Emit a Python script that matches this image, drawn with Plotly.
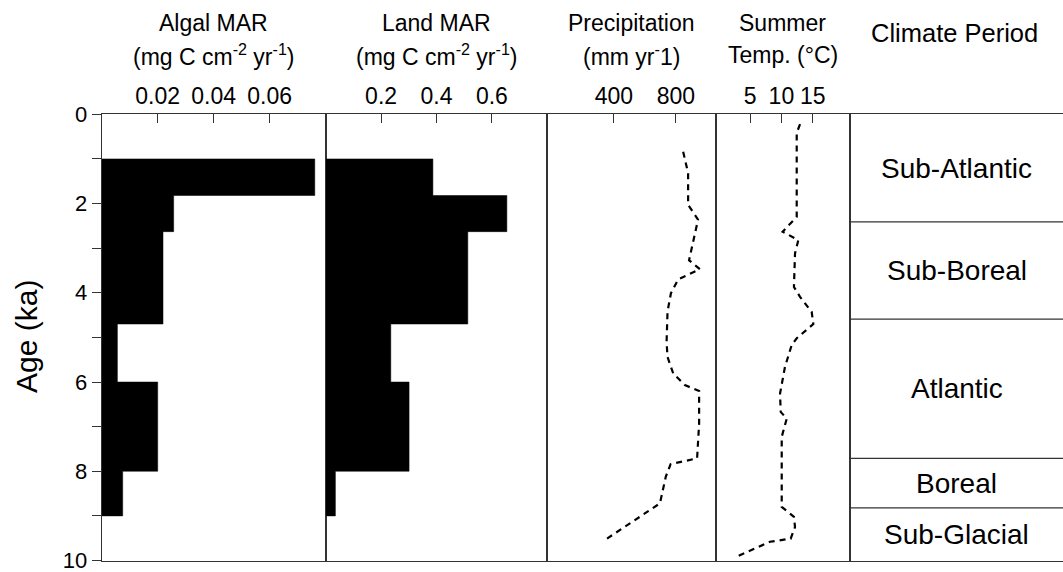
import plotly.graph_objects as go

# ---------------- data ----------------
# age bins (ka) for the MAR step bars
bin_top = [1.0, 1.82, 2.63, 4.70, 6.00, 8.00]
bin_bottom = [1.82, 2.63, 4.70, 6.00, 8.00, 9.00]
algal_mar = [0.0761, 0.0257, 0.0219, 0.0056, 0.0200, 0.0075]
land_mar = [0.387, 0.654, 0.513, 0.235, 0.301, 0.035]

precip_age = [0.84, 1.32, 2.03, 2.36, 3.27, 3.47, 3.70, 4.01, 4.42, 5.10, 5.44,
              5.81, 6.07, 6.20, 6.93, 7.71, 7.84, 8.12, 8.72, 9.02, 9.54]
precip_val = [847, 879, 879, 943, 885, 955, 815, 768, 746, 740, 746,
              783, 858, 950, 950, 937, 766, 735, 697, 568, 342]

temp_age = [0.22, 0.42, 2.30, 2.63, 2.82, 3.12, 3.87, 4.09, 4.43, 4.70, 5.02, 5.17,
            5.66, 6.26, 6.67, 6.82, 7.23, 8.80, 9.02, 9.25, 9.51, 9.58, 9.73, 9.90]
temp_val = [12.97, 12.44, 12.44, 10.2, 12.7, 12.17, 12.0, 12.97, 14.83, 15.09, 12.44, 11.64,
            10.57, 9.78, 9.89, 10.85, 10.05, 10.05, 12.0, 12.17, 11.48, 8.18, 5.79, 3.13]

period_names = ["Sub-Atlantic", "Sub-Boreal", "Atlantic", "Boreal", "Sub-Glacial"]
period_start = [0.0, 2.41, 4.59, 7.71, 8.82]
period_end = [2.41, 4.59, 7.71, 8.82, 10.0]

algal_ticks = [0.02, 0.04, 0.06]
land_ticks = [0.2, 0.4, 0.6]
precip_ticks = [400, 800]
temp_ticks = [5, 10, 15]
age_ticks = [0, 2, 4, 6, 8, 10]

header_line1 = ["Algal MAR", "Land MAR", "Precipitation", "Summer"]
header_line2 = ["(mg C cm<sup>-2</sup> yr<sup>-1</sup>)",
                "(mg C cm<sup>-2</sup> yr<sup>-1</sup>)",
                "(mm yr<sup>-</sup>1)",
                "Temp. (°C)"]
climate_header = "Climate Period"

# ---------------- layout geometry ----------------
W, H = 1063, 572
FONT = "Liberation Sans, Arial, Helvetica, sans-serif"
LINE = "#333333"
LW = 1.3
px_edges = [101.7, 325.7, 547.3, 715.7, 850.0, 1063.0]
xdom = [[px_edges[i] / W, px_edges[i + 1] / W] for i in range(5)]
ydom = [1 - 560.5 / H, 1 - 114.3 / H]


def step_outline(tops, bottoms, vals):
    xs, ys = [0], [tops[0]]
    for t, b, v in zip(tops, bottoms, vals):
        xs += [v, v]
        ys += [t, b]
    xs += [0]
    ys += [bottoms[-1]]
    return xs, ys


fig = go.Figure()

ax, ay = step_outline(bin_top, bin_bottom, algal_mar)
fig.add_trace(go.Scatter(x=ax, y=ay, mode="lines", fill="toself", fillcolor="black",
                         line=dict(color="black", width=0.5),
                         xaxis="x", yaxis="y", showlegend=False))
lx, ly = step_outline(bin_top, bin_bottom, land_mar)
fig.add_trace(go.Scatter(x=lx, y=ly, mode="lines", fill="toself", fillcolor="black",
                         line=dict(color="black", width=0.5),
                         xaxis="x2", yaxis="y2", showlegend=False))
fig.add_trace(go.Scatter(x=precip_val, y=precip_age, mode="lines",
                         line=dict(color="black", width=2.2, dash="6px,5px"),
                         xaxis="x3", yaxis="y3", showlegend=False))
fig.add_trace(go.Scatter(x=temp_val, y=temp_age, mode="lines",
                         line=dict(color="black", width=2.2, dash="6px,5px"),
                         xaxis="x4", yaxis="y4", showlegend=False))

# climate period boundary lines
bx, by = [], []
for b in period_end[:-1]:
    bx += [0, 1, None]
    by += [b, b, None]
fig.add_trace(go.Scatter(x=bx, y=by, mode="lines",
                         line=dict(color=LINE, width=1.2),
                         xaxis="x5", yaxis="y5", showlegend=False))


def xaxis_cfg(i, rng, ticks):
    cfg = dict(domain=xdom[i], range=rng, side="top", anchor="y" if i == 0 else f"y{i+1}",
               showline=True, linecolor=LINE, linewidth=LW, mirror=True,
               showgrid=False, zeroline=False, fixedrange=True, automargin=False,
               tickfont=dict(family=FONT, size=23, color="black"))
    if ticks:
        cfg.update(tickmode="array", tickvals=ticks, ticktext=[str(t) for t in ticks],
                   ticks="inside", ticklen=9, tickwidth=LW, tickcolor=LINE)
    else:
        cfg.update(showticklabels=False, ticks="")
    return cfg


layout = dict(
    width=W, height=H, margin=dict(l=0, r=0, t=0, b=0, pad=0),
    paper_bgcolor="white", plot_bgcolor="white",
    showlegend=False,
    font=dict(family=FONT, color="black"),
)
layout["xaxis"] = xaxis_cfg(0, [0, 0.08], algal_ticks)
layout["xaxis2"] = xaxis_cfg(1, [0, 0.80], land_ticks)
layout["xaxis3"] = xaxis_cfg(2, [-30, 1057], precip_ticks)
layout["xaxis4"] = xaxis_cfg(3, [-0.48, 20.94], temp_ticks)
layout["xaxis5"] = xaxis_cfg(4, [0, 1], None)

layout["yaxis"] = dict(domain=ydom, range=[10, 0], anchor="x", side="left",
                       showline=True, linecolor=LINE, linewidth=LW, mirror=True,
                       showgrid=False, zeroline=False, fixedrange=True, automargin=False,
                       tickmode="array", tickvals=age_ticks, ticklabeloverflow="allow",
                       ticks="outside", ticklen=9, tickwidth=LW, tickcolor=LINE,
                       minor=dict(dtick=1, ticks="outside", ticklen=9, tickwidth=LW,
                                  tickcolor=LINE, showgrid=False),
                       tickfont=dict(family=FONT, size=22, color="black"))
for i in range(2, 6):
    layout[f"yaxis{i}"] = dict(domain=ydom, range=[10, 0], anchor=f"x{i}", matches="y",
                               showline=True, linecolor=LINE, linewidth=LW,
                               mirror=(i != 5), showgrid=False, zeroline=False,
                               showticklabels=False, ticks="", fixedrange=True,
                               automargin=False)

annotations = []
for i, (t1, t2) in enumerate(zip(header_line1, header_line2)):
    cx = (px_edges[i] + px_edges[i + 1]) / 2 / W
    annotations.append(dict(text=t1, x=cx, y=1 - 22.5 / H, xref="paper", yref="paper",
                            xanchor="center", yanchor="middle", showarrow=False,
                            font=dict(family=FONT, size=23, color="black")))
    annotations.append(dict(text=t2, x=cx, y=1 - 55 / H, xref="paper", yref="paper",
                            xanchor="center", yanchor="middle", showarrow=False,
                            font=dict(family=FONT, size=23, color="black")))
annotations.append(dict(text=climate_header, x=954 / W, y=1 - 33 / H, xref="paper", yref="paper",
                        xanchor="center", yanchor="middle", showarrow=False,
                        font=dict(family=FONT, size=25.5, color="black")))
for name, a, b in zip(period_names, period_start, period_end):
    annotations.append(dict(text=name, x=0.5, y=(a + b) / 2, xref="x5", yref="y5",
                            xanchor="center", yanchor="middle", showarrow=False,
                            font=dict(family=FONT, size=28, color="black")))
annotations.append(dict(text="Age (ka)", x=26 / W, y=1 - 337 / H, xref="paper", yref="paper",
                        textangle=-90, xanchor="center", yanchor="middle", showarrow=False,
                        font=dict(family=FONT, size=30, color="black")))
layout["annotations"] = annotations

fig.update_layout(**layout)
fig.write_html("out.html", config={"displayModeBar": False},
               post_script="document.body.style.margin='0';")
